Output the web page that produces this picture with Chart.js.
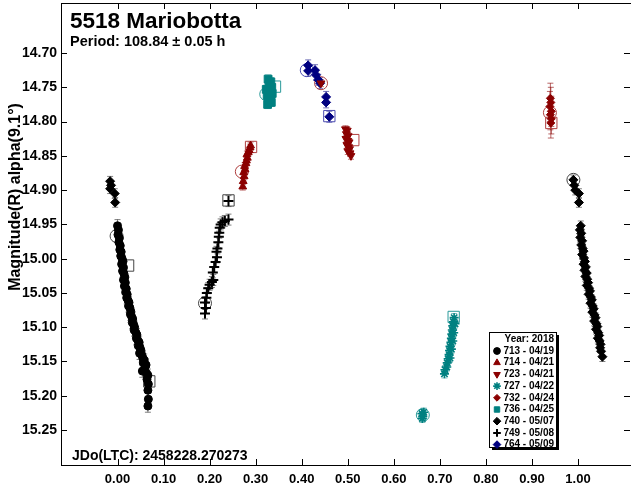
<!DOCTYPE html>
<html>
<head>
<meta charset="utf-8">
<script src="https://cdn.jsdelivr.net/npm/chart.js@4.4.1/dist/chart.umd.min.js"></script>
<style>
  html, body { margin: 0; padding: 0; background: #fff; }
  canvas { display: block; }
</style>
</head>
<body>
<canvas id="lc" width="631" height="496"></canvas>
<script>
// phase / magnitude per session
const s713Phase = [0.000, 0.002, 0.001, 0.004, 0.003, 0.006, 0.005, 0.008, 0.007, 0.010, 0.012, 0.009, 0.013, 0.011, 0.014, 0.016, 0.013, 0.017, 0.015, 0.019, 0.018, 0.021, 0.020, 0.023, 0.025, 0.024, 0.027, 0.029, 0.028, 0.031, 0.033, 0.032, 0.035, 0.037, 0.036, 0.040, 0.042, 0.041, 0.044, 0.047, 0.045, 0.049, 0.051, 0.048, 0.053, 0.055, 0.058, 0.056, 0.062, 0.060, 0.054, 0.063, 0.066, 0.064, 0.067, 0.066, 0.067, 0.066];
const s713Mag = [14.952, 14.958, 14.965, 14.970, 14.976, 14.981, 14.987, 14.990, 14.996, 15.000, 15.004, 15.008, 15.013, 15.018, 15.022, 15.027, 15.031, 15.035, 15.040, 15.044, 15.049, 15.052, 15.057, 15.061, 15.064, 15.069, 15.072, 15.077, 15.081, 15.085, 15.088, 15.093, 15.096, 15.100, 15.104, 15.108, 15.111, 15.116, 15.119, 15.122, 15.127, 15.130, 15.134, 15.138, 15.141, 15.145, 15.148, 15.152, 15.155, 15.158, 15.164, 15.167, 15.170, 15.176, 15.183, 15.192, 15.205, 15.215];
const s713Err = 0.009;

const s714Phase = [0.272, 0.273, 0.275, 0.274, 0.277, 0.276, 0.279, 0.280, 0.282, 0.281, 0.284, 0.286, 0.288, 0.289];
const s714Mag = [14.895, 14.887, 14.880, 14.874, 14.870, 14.865, 14.861, 14.857, 14.853, 14.848, 14.845, 14.842, 14.838, 14.835];
const s714Err = 0.005;

const s723Phase = [0.442, 0.495, 0.499, 0.497, 0.501, 0.496, 0.500, 0.503, 0.498, 0.502, 0.504, 0.500, 0.505, 0.507];
const s723Mag = [14.744, 14.811, 14.813, 14.818, 14.821, 14.825, 14.828, 14.830, 14.834, 14.837, 14.840, 14.843, 14.846, 14.850];
const s723Err = 0.005;

const s727Phase = [0.661, 0.663, 0.665, 0.662, 0.731, 0.733, 0.729, 0.728, 0.730, 0.727, 0.726, 0.728, 0.725, 0.724, 0.725, 0.722, 0.721, 0.722, 0.720, 0.718, 0.716, 0.715, 0.711, 0.710];
const s727Mag = [15.226, 15.230, 15.224, 15.233, 15.086, 15.095, 15.092, 15.098, 15.108, 15.104, 15.110, 15.120, 15.116, 15.122, 15.132, 15.128, 15.134, 15.145, 15.140, 15.146, 15.152, 15.158, 15.162, 15.168];
const s727Err = 0.006;

const s732Phase = [0.940, 0.941, 0.939, 0.942, 0.940, 0.942, 0.941];
const s732Mag = [14.766, 14.772, 14.778, 14.785, 14.790, 14.796, 14.802];
const s732Err = 0.022;

const s736Phase = [0.327, 0.333, 0.329, 0.335, 0.323, 0.331, 0.336, 0.325, 0.332, 0.328, 0.334, 0.326];
const s736Mag = [14.738, 14.742, 14.746, 14.750, 14.753, 14.756, 14.759, 14.762, 14.765, 14.769, 14.772, 14.775];
const s736Err = 0.006;

const s740Phase = [-0.016, -0.014, -0.016, -0.006, -0.005, 0.990, 0.992, 0.994, 1.002, 1.002, 1.006, 1.004, 1.007, 1.005, 1.009, 1.007, 1.010, 1.012, 1.009, 1.013, 1.015, 1.012, 1.017, 1.014, 1.019, 1.016, 1.020, 1.022, 1.019, 1.024, 1.026, 1.023, 1.028, 1.030, 1.027, 1.032, 1.034, 1.031, 1.036, 1.038, 1.035, 1.040, 1.042, 1.039, 1.044, 1.046, 1.043, 1.047, 1.049, 1.048, 1.050, 1.053];
const s740Mag = [14.887, 14.893, 14.898, 14.905, 14.918, 14.885, 14.893, 14.900, 14.905, 14.918, 14.952, 14.958, 14.963, 14.969, 14.974, 14.980, 14.985, 14.989, 14.994, 14.999, 15.004, 15.008, 15.012, 15.017, 15.021, 15.026, 15.030, 15.035, 15.039, 15.043, 15.047, 15.052, 15.056, 15.060, 15.065, 15.069, 15.073, 15.078, 15.082, 15.086, 15.091, 15.095, 15.099, 15.103, 15.108, 15.112, 15.116, 15.120, 15.125, 15.130, 15.135, 15.143];
const s740Err = 0.007;

const s749Phase = [0.190, 0.192, 0.190, 0.193, 0.194, 0.197, 0.200, 0.205, 0.208, 0.207, 0.210, 0.213, 0.216, 0.215, 0.217, 0.219, 0.220, 0.221, 0.222, 0.224, 0.228, 0.233, 0.241, 0.241];
const s749Mag = [15.080, 15.072, 15.064, 15.057, 15.050, 15.043, 15.038, 15.034, 15.031, 15.020, 15.012, 15.005, 14.998, 14.990, 14.985, 14.976, 14.968, 14.962, 14.955, 14.950, 14.947, 14.945, 14.943, 14.916];
const s749Err = 0.008;

const s764Phase = [0.414, 0.414, 0.429, 0.431, 0.436, 0.440, 0.453, 0.453, 0.460];
const s764Mag = [14.718, 14.726, 14.725, 14.732, 14.739, 14.744, 14.764, 14.772, 14.793];
const s764Err = 0.008;

// open circles (first point) and squares (last point) of each night
const markPhase = [-0.002, 0.023, 0.069, 0.190, 0.241, 0.270, 0.290, 0.323, 0.342, 0.411, 0.460, 0.442, 0.512, 0.663, 0.730, 0.939, 0.942, 0.990];
const markMag = [14.967, 15.010, 15.179, 15.065, 14.915, 14.873, 14.837, 14.760, 14.749, 14.725, 14.792, 14.744, 14.827, 15.228, 15.085, 14.787, 14.802, 14.885];
const markKind = ["first", "last", "last", "first", "last", "first", "last", "first", "last", "first", "last", "first", "last", "first", "last", "first", "last", "first"];
const markSession = ["713", "713", "713", "749", "749", "714", "714", "736", "736", "764", "764", "723", "723", "727", "727", "732", "732", "740"];

const legendLabels = ["713 - 04/19", "714 - 04/21", "723 - 04/21", "727 - 04/22", "732 - 04/24", "736 - 04/25", "740 - 05/07", "749 - 05/08", "764 - 05/09"];
const xTickValues = [0.0, 0.1, 0.2, 0.3, 0.4, 0.5, 0.6, 0.7, 0.8, 0.9, 1.0];
const yTickValues = [14.70, 14.75, 14.80, 14.85, 14.90, 14.95, 15.00, 15.05, 15.10, 15.15, 15.20, 15.25];

const FONT = "'Liberation Sans', Arial, sans-serif";
const RED = "#8b0000", TEAL = "#008080", NAVY = "#000080", BLACK = "#000000";

const sessionStyle = {
  "713": { color: BLACK, errColor: "rgba(0,0,0,0.5)", pointStyle: "circle", radius: 4, rotation: 0, borderWidth: 1 },
  "714": { color: RED, errColor: "rgba(139,0,0,0.5)", pointStyle: "triangle", radius: 4.5, rotation: 0, borderWidth: 1 },
  "723": { color: RED, errColor: "rgba(139,0,0,0.5)", pointStyle: "triangle", radius: 4.5, rotation: 180, borderWidth: 1 },
  "727": { color: TEAL, errColor: "rgba(0,128,128,0.5)", pointStyle: "star", radius: 4.5, rotation: 0, borderWidth: 1.6 },
  "732": { color: RED, errColor: "rgba(139,0,0,0.6)", pointStyle: "rectRot", radius: 4, rotation: 0, borderWidth: 1 },
  "736": { color: TEAL, errColor: "rgba(0,128,128,0.6)", pointStyle: "rect", radius: 5.5, rotation: 0, borderWidth: 1 },
  "740": { color: BLACK, errColor: "rgba(0,0,0,0.5)", pointStyle: "rectRot", radius: 4.5, rotation: 0, borderWidth: 1 },
  "749": { color: BLACK, errColor: "rgba(0,0,0,0.5)", pointStyle: "cross", radius: 5, rotation: 0, borderWidth: 2 },
  "764": { color: NAVY, errColor: "rgba(0,0,128,0.55)", pointStyle: "rectRot", radius: 4.5, rotation: 0, borderWidth: 1 }
};

const sessions = [
  ["713", s713Phase, s713Mag, s713Err],
  ["714", s714Phase, s714Mag, s714Err],
  ["723", s723Phase, s723Mag, s723Err],
  ["727", s727Phase, s727Mag, s727Err],
  ["732", s732Phase, s732Mag, s732Err],
  ["736", s736Phase, s736Mag, s736Err],
  ["740", s740Phase, s740Mag, s740Err],
  ["749", s749Phase, s749Mag, s749Err],
  ["764", s764Phase, s764Mag, s764Err]
];

const markColor = { "713": "#444", "740": "#444", "749": "#444", "714": "#b04040", "723": "#b04040", "732": "#b04040", "727": "#2a9a9a", "736": "#2a9a9a", "764": "#4a4ab0" };

const datasets = sessions.map(([id, ph, mg, er]) => {
  const st = sessionStyle[id];
  return {
    label: id,
    data: ph.map((p, i) => ({ x: p, y: mg[i] })),
    errValue: er,
    errColor: st.errColor,
    pointStyle: st.pointStyle,
    pointRadius: st.radius,
    pointRotation: st.rotation,
    pointBorderWidth: st.borderWidth,
    backgroundColor: st.color,
    borderColor: st.color,
    showLine: false
  };
});

datasets.push({
  label: "marks",
  data: markPhase.map((p, i) => ({ x: p, y: markMag[i] })),
  pointStyle: markKind.map(k => k === "first" ? "circle" : "rect"),
  pointRadius: markKind.map(k => k === "first" ? 6.5 : 8),
  backgroundColor: "rgba(0,0,0,0)",
  borderColor: markSession.map(s => markColor[s]),
  pointBorderWidth: 1,
  showLine: false
});

// error bars, drawn under the points
const errorBars = {
  id: "errorBars",
  beforeDatasetsDraw(chart) {
    const ctx = chart.ctx, y = chart.scales.y, a = chart.chartArea;
    ctx.save();
    ctx.beginPath();
    ctx.rect(a.left, a.top, a.right - a.left, a.bottom - a.top);
    ctx.clip();
    chart.data.datasets.forEach((ds, di) => {
      if (!ds.errValue) return;
      const meta = chart.getDatasetMeta(di);
      ctx.strokeStyle = ds.errColor;
      ctx.lineWidth = 1;
      meta.data.forEach((pt, i) => {
        const v = ds.data[i].y;
        const y1 = y.getPixelForValue(v - ds.errValue);
        const y2 = y.getPixelForValue(v + ds.errValue);
        ctx.beginPath();
        ctx.moveTo(pt.x, y1); ctx.lineTo(pt.x, y2);
        ctx.moveTo(pt.x - 3, y1); ctx.lineTo(pt.x + 3, y1);
        ctx.moveTo(pt.x - 3, y2); ctx.lineTo(pt.x + 3, y2);
        ctx.stroke();
      });
    });
    ctx.restore();
  }
};

// frame, inside ticks, titles and the session legend
const decorations = {
  id: "decorations",
  afterDraw(chart) {
    const ctx = chart.ctx, a = chart.chartArea;
    const xs = chart.scales.x, ys = chart.scales.y;
    ctx.save();
    ctx.strokeStyle = "#000";
    ctx.lineWidth = 1;
    ctx.beginPath();
    ctx.moveTo(a.left + 0.5, a.top + 0.5); ctx.lineTo(a.right + 2, a.top + 0.5);
    ctx.moveTo(a.left + 0.5, a.top); ctx.lineTo(a.left + 0.5, a.bottom + 0.5);
    ctx.moveTo(a.left, a.bottom + 0.5); ctx.lineTo(a.right + 2, a.bottom + 0.5);
    xTickValues.forEach(v => {
      const px = Math.round(xs.getPixelForValue(v)) + 0.5;
      ctx.moveTo(px, a.bottom); ctx.lineTo(px, a.bottom - 6);
      ctx.moveTo(px, a.top); ctx.lineTo(px, a.top + 6);
    });
    yTickValues.forEach(v => {
      const py = Math.round(ys.getPixelForValue(v)) + 0.5;
      ctx.moveTo(a.left, py); ctx.lineTo(a.left + 6, py);
      ctx.moveTo(a.right, py); ctx.lineTo(a.right - 6, py);
    });
    ctx.stroke();

    ctx.fillStyle = "#000";
    ctx.textBaseline = "alphabetic";
    ctx.textAlign = "left";
    ctx.font = "bold 22.5px " + FONT;
    ctx.fillText("5518 Mariobotta", 70, 28);
    ctx.font = "bold 14.5px " + FONT;
    ctx.fillText("Period: 108.84 ± 0.05 h", 70, 46);
    ctx.font = "bold 14px " + FONT;
    ctx.fillText("JDo(LTC): 2458228.270273", 72, 460);

    ctx.save();
    ctx.translate(20, 197);
    ctx.rotate(-Math.PI / 2);
    ctx.textAlign = "center";
    ctx.font = "bold 16px " + FONT;
    ctx.fillText("Magnitude(R) alpha(9.1°)", 0, 0);
    ctx.restore();

    // legend box
    const bx = 489, by = 332, bw = 67, bh = 115;
    ctx.fillStyle = "#000";
    ctx.fillRect(bx + 3, by + 3, bw, bh);
    ctx.fillStyle = "#fff";
    ctx.fillRect(bx, by, bw, bh);
    ctx.strokeStyle = "#000";
    ctx.strokeRect(bx + 0.5, by + 0.5, bw, bh);
    ctx.fillStyle = "#000";
    ctx.textAlign = "right";
    ctx.textBaseline = "middle";
    ctx.font = "bold 10px " + FONT;
    ctx.fillText("Year: 2018", bx + bw - 2, by + 7);
    legendLabels.forEach((lab, i) => {
      const st = sessionStyle[sessions[i][0]];
      const ly = by + 19 + i * 11.7;
      ctx.fillStyle = "#000";
      ctx.fillText(lab, bx + bw - 2, ly);
      ctx.fillStyle = st.color;
      ctx.strokeStyle = st.color;
      ctx.lineWidth = st.borderWidth;
      Chart.helpers.drawPoint(ctx, { pointStyle: st.pointStyle, radius: Math.min(st.radius, 4.5) * 0.85, rotation: st.rotation, borderWidth: st.borderWidth }, bx + 8, ly);
    });
    ctx.restore();
  }
};

new Chart(document.getElementById("lc").getContext("2d"), {
  type: "scatter",
  data: { datasets: datasets },
  plugins: [errorBars, decorations],
  options: {
    responsive: false,
    animation: false,
    devicePixelRatio: 1,
    layout: { autoPadding: false, padding: { top: 3, right: 1, left: 0, bottom: 0 } },
    plugins: { legend: { display: false }, tooltip: { enabled: false } },
    scales: {
      x: {
        type: "linear",
        min: -0.1227,
        max: 1.1129,
        afterBuildTicks: s => { s.ticks = xTickValues.map(v => ({ value: v })); },
        afterFit: s => { s.height = 31; s.paddingLeft = 0; s.paddingRight = 0; },
        grid: { display: false, drawTicks: false },
        border: { display: false },
        ticks: { color: "#000", font: { family: FONT, size: 13, weight: "bold" }, padding: 7, maxRotation: 0, autoSkip: false, callback: v => v.toFixed(2) }
      },
      y: {
        type: "linear",
        reverse: true,
        min: 14.627,
        max: 15.301,
        afterBuildTicks: s => { s.ticks = yTickValues.map(v => ({ value: v })); },
        afterFit: s => { s.width = 61; s.paddingTop = 0; s.paddingBottom = 0; },
        grid: { display: false, drawTicks: false },
        border: { display: false },
        ticks: { color: "#000", font: { family: FONT, size: 14, weight: "bold" }, padding: 4, autoSkip: false, callback: v => v.toFixed(2) }
      }
    }
  }
});
</script>
</body>
</html>
